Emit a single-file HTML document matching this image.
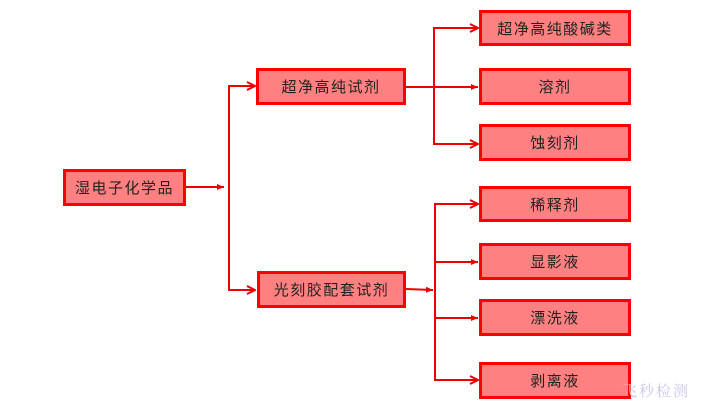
<!DOCTYPE html>
<html><head><meta charset="utf-8"><style>
body{margin:0;background:#fff;width:701px;height:408px;overflow:hidden;position:relative;font-family:"Liberation Sans","Noto Sans CJK SC",sans-serif}
.b{position:absolute;box-sizing:border-box;background:#ff8080;border:3px solid #f00;display:flex;align-items:center;justify-content:center;font-size:15px;color:#222;letter-spacing:1.5px}
svg{position:absolute;left:0;top:0}
.wm{position:absolute;left:622px;top:380px;font-size:15px;color:#c8c8e8;font-family:"Noto Serif CJK SC",serif;letter-spacing:2px}
</style></head><body>
<svg width="701" height="408">
<defs><marker id="a" markerWidth="10" markerHeight="10" refX="9" refY="5" orient="auto" markerUnits="userSpaceOnUse"><path d="M1,1 L9,5 L1,9" fill="none" stroke="#e00" stroke-width="2"/></marker>
<marker id="t" markerWidth="8" markerHeight="8" refX="7" refY="4" orient="auto" markerUnits="userSpaceOnUse"><path d="M0,1 L7,4 L0,7z" fill="#e00"/></marker></defs>
<g stroke="#e00" stroke-width="2" fill="none">
<line x1="186" y1="187" x2="224" y2="187" marker-end="url(#t)"/>
<polyline points="255,86 229,86 229,290 255,290" marker-end="url(#a)"/>
<line x1="229" y1="86" x2="255" y2="86" marker-end="url(#a)"/>
<line x1="406" y1="87" x2="478" y2="87" marker-end="url(#t)"/>
<polyline points="478,28 434,28 434,144 478,144" marker-end="url(#a)"/>
<line x1="434" y1="28" x2="478" y2="28" marker-end="url(#a)"/>
<line x1="406" y1="289" x2="433" y2="290" marker-end="url(#t)"/>
<polyline points="478,204 435,204 435,380 478,380" marker-end="url(#a)"/>
<line x1="435" y1="204" x2="478" y2="204" marker-end="url(#a)"/>
<line x1="435" y1="262" x2="478" y2="262" marker-end="url(#t)"/>
<line x1="435" y1="318" x2="478" y2="318" marker-end="url(#t)"/>
</g></svg>
<div class="b" style="left:63px;top:169px;width:123px;height:37px">湿电子化学品</div>
<div class="b" style="left:256px;top:68px;width:150px;height:37px">超净高纯试剂</div>
<div class="b" style="left:257px;top:271px;width:149px;height:37px">光刻胶配套试剂</div>
<div class="b" style="left:479px;top:10px;width:152px;height:36px">超净高纯酸碱类</div>
<div class="b" style="left:479px;top:68px;width:152px;height:37px">溶剂</div>
<div class="b" style="left:479px;top:124px;width:152px;height:37px">蚀刻剂</div>
<div class="b" style="left:479px;top:186px;width:152px;height:36px">稀释剂</div>
<div class="b" style="left:479px;top:243px;width:152px;height:37px">显影液</div>
<div class="b" style="left:479px;top:299px;width:152px;height:37px">漂洗液</div>
<div class="b" style="left:479px;top:362px;width:152px;height:37px">剥离液</div>
<div class="wm">飞秒检测</div>
</body></html>
